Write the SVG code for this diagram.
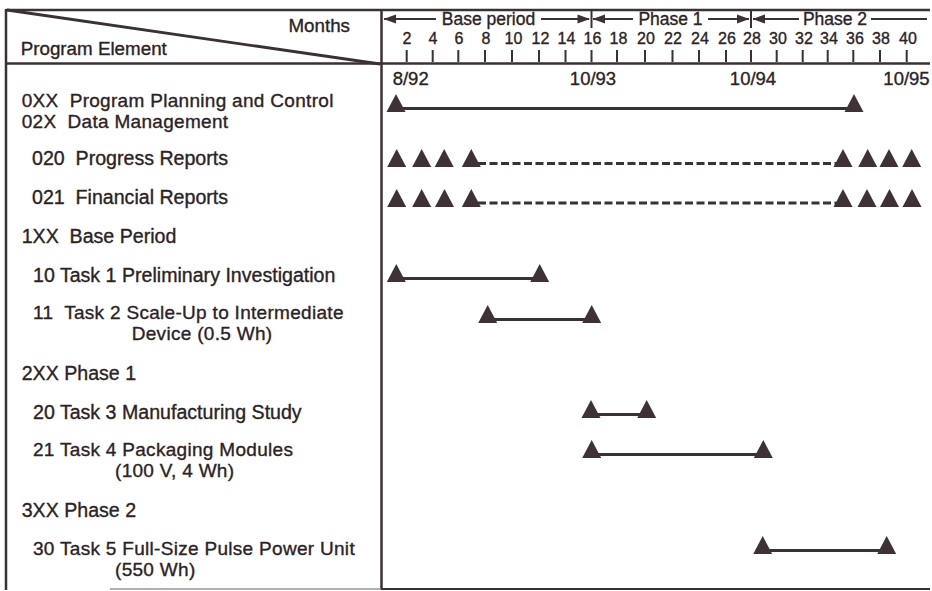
<svg xmlns="http://www.w3.org/2000/svg" xmlns:xlink="http://www.w3.org/1999/xlink" width="932" height="591" viewBox="0 0 932 591">
<style>
text{font-family:"Liberation Sans",Arial,Helvetica,sans-serif;fill:#2b2326;stroke:#2b2326;stroke-width:0.35;font-size:19.6px;white-space:pre}
.two{font-size:19px;letter-spacing:0.3px}
.num{font-size:16px;text-anchor:middle}
.hdr{font-size:18.8px}
.per{font-size:17.5px;text-anchor:middle}
.date{font-size:18.5px}
.frame{stroke:#3b3034;stroke-width:2.5;fill:none}
.tick{stroke:#3b3034;stroke-width:2}
.bar{stroke:#3b3034;stroke-width:3;fill:none}
.dash{stroke:#3b3034;stroke-width:3.2;fill:none;stroke-dasharray:8 3.5}
.ah{fill:#3b3034}
.tri{fill:#3e3236}
</style>
<defs>
<path id="tri" class="tri" d="M0,-18 L9.5,0 L-9.5,0 Z"/>
</defs>
<rect width="932" height="591" fill="#ffffff"/>
<g id="frame">
<line class="frame" x1="6" y1="10" x2="930" y2="10"/>
<line class="frame" x1="6" y1="63.5" x2="930" y2="63.5"/>
<line class="frame" x1="6" y1="9" x2="6" y2="590"/>
<line class="frame" x1="381.5" y1="9" x2="381.5" y2="590"/>
<line x1="7" y1="10" x2="380" y2="64" stroke="#3b3034" stroke-width="2.8"/>
<line x1="110" y1="589" x2="381" y2="589" stroke="#9a9496" stroke-width="1.5"/>
<line x1="381" y1="589" x2="930" y2="589" stroke="#3b3034" stroke-width="2"/>
</g>
<g id="header">
<text class="hdr" x="350" y="31.7" text-anchor="end">Months</text>
<text class="hdr" x="20.7" y="55">Program Element</text>
<g id="periods">
<line class="tick" x1="384" y1="19" x2="436" y2="19"/>
<polygon class="ah" points="383.5,19 396,14.5 396,23.5"/>
<text class="per" x="488.5" y="24.5">Base period</text>
<line class="tick" x1="541" y1="19" x2="589" y2="19"/>
<polygon class="ah" points="590,19 577.5,14.5 577.5,23.5"/>
<line class="tick" x1="591.5" y1="9" x2="591.5" y2="28"/>
<line class="tick" x1="593" y1="19" x2="633" y2="19"/>
<polygon class="ah" points="592.5,19 605,14.5 605,23.5"/>
<text class="per" x="670.5" y="24.5">Phase 1</text>
<line class="tick" x1="708" y1="19" x2="749" y2="19"/>
<polygon class="ah" points="749.5,19 737,14.5 737,23.5"/>
<line class="tick" x1="751" y1="9" x2="751" y2="28"/>
<line class="tick" x1="753" y1="19" x2="799" y2="19"/>
<polygon class="ah" points="752.5,19 765,14.5 765,23.5"/>
<text class="per" x="835" y="24.5">Phase 2</text>
<line class="tick" x1="871" y1="19" x2="927" y2="19"/>
</g>
<g id="axis">
<path class="tick" d="M406.7,50V62 M432.7,50V62 M458.3,50V62 M485,50V62 M512,50V62 M539,50V62 M565.5,50V62 M591.5,50V62 M617,50V62 M645,50V62 M672.5,50V62 M699,50V62 M726,50V62 M751,50V62 M776.7,50V62 M802.7,50V62 M827.7,50V62 M853.3,50V62 M880,50V62 M906.7,50V62"/>
<text class="num" x="407" y="43.5">2</text>
<text class="num" x="433" y="43.5">4</text>
<text class="num" x="459" y="43.5">6</text>
<text class="num" x="486" y="43.5">8</text>
<text class="num" x="513.5" y="43.5">10</text>
<text class="num" x="540.5" y="43.5">12</text>
<text class="num" x="566.5" y="43.5">14</text>
<text class="num" x="592.5" y="43.5">16</text>
<text class="num" x="618.5" y="43.5">18</text>
<text class="num" x="646" y="43.5">20</text>
<text class="num" x="673" y="43.5">22</text>
<text class="num" x="700" y="43.5">24</text>
<text class="num" x="727" y="43.5">26</text>
<text class="num" x="752" y="43.5">28</text>
<text class="num" x="778" y="43.5">30</text>
<text class="num" x="804" y="43.5">32</text>
<text class="num" x="829" y="43.5">34</text>
<text class="num" x="855" y="43.5">36</text>
<text class="num" x="881" y="43.5">38</text>
<text class="num" x="908" y="43.5">40</text>
</g>
<g id="dates">
<text class="date" x="392.7" y="85">8/92</text>
<text class="date" x="593" y="85" text-anchor="middle">10/93</text>
<text class="date" x="753" y="85" text-anchor="middle">10/94</text>
<text class="date" x="906.5" y="85" text-anchor="middle">10/95</text>
</g>
</g>
<g id="connectors">
<line class="bar" x1="396" y1="108.5" x2="854" y2="108.5"/>
<line class="dash" x1="478" y1="163.5" x2="836" y2="163.5"/>
<line class="dash" x1="478" y1="203" x2="836" y2="203"/>
<line class="bar" x1="396.3" y1="278.5" x2="539.7" y2="278.5"/>
<line class="bar" x1="487.7" y1="319.5" x2="591.7" y2="319.5"/>
<line class="bar" x1="591" y1="414.5" x2="646.7" y2="414.5"/>
<line class="bar" x1="591.7" y1="454.5" x2="763.3" y2="454.5"/>
<line class="bar" x1="762.7" y1="550.5" x2="886.7" y2="550.5"/>
</g>
<g id="row-0XX">
<text class="two" x="21.7" y="106.5">0XX  Program Planning and Control<tspan x="21.7" y="127.9">02X  Data Management</tspan></text>
<use href="#tri" x="396" y="112"/>
<use href="#tri" x="854" y="112"/>
</g>
<g id="row-020">
<text x="32" y="165">020  Progress Reports</text>
<use href="#tri" x="396.7" y="167"/>
<use href="#tri" x="421.7" y="167"/>
<use href="#tri" x="444.2" y="167"/>
<use href="#tri" x="471.3" y="167"/>
<use href="#tri" x="843" y="167"/>
<use href="#tri" x="867.7" y="167"/>
<use href="#tri" x="889" y="167"/>
<use href="#tri" x="911.7" y="167"/>
</g>
<g id="row-021">
<text x="32" y="204">021  Financial Reports</text>
<use href="#tri" x="396.7" y="207"/>
<use href="#tri" x="421.7" y="207"/>
<use href="#tri" x="444.5" y="207"/>
<use href="#tri" x="471.3" y="207"/>
<use href="#tri" x="843" y="207"/>
<use href="#tri" x="867" y="207"/>
<use href="#tri" x="889.5" y="207"/>
<use href="#tri" x="912" y="207"/>
</g>
<g id="row-1XX">
<text x="21.7" y="243">1XX  Base Period</text>
</g>
<g id="row-10">
<text x="33" y="281.5">10 Task 1 Preliminary Investigation</text>
<use href="#tri" x="396.3" y="282"/>
<use href="#tri" x="539.7" y="282"/>
</g>
<g id="row-11">
<text class="two" x="33" y="318.6">11  Task 2 Scale-Up to Intermediate<tspan x="131.7" y="340">Device (0.5 Wh)</tspan></text>
<use href="#tri" x="487.7" y="323"/>
<use href="#tri" x="591.7" y="323"/>
</g>
<g id="row-2XX">
<text x="21.7" y="380">2XX Phase 1</text>
</g>
<g id="row-20">
<text x="33" y="419">20 Task 3 Manufacturing Study</text>
<use href="#tri" x="591" y="418"/>
<use href="#tri" x="646.7" y="418"/>
</g>
<g id="row-21">
<text class="two" x="33" y="456">21 Task 4 Packaging Modules<tspan x="115" y="477.4">(100 V, 4 Wh)</tspan></text>
<use href="#tri" x="591.7" y="458"/>
<use href="#tri" x="763.3" y="458"/>
</g>
<g id="row-3XX">
<text x="21.7" y="516.5">3XX Phase 2</text>
</g>
<g id="row-30">
<text class="two" x="33" y="554.6">30 Task 5 Full-Size Pulse Power Unit<tspan x="115" y="576">(550 Wh)</tspan></text>
<use href="#tri" x="762.7" y="554"/>
<use href="#tri" x="886.7" y="554"/>
</g>
</svg>
